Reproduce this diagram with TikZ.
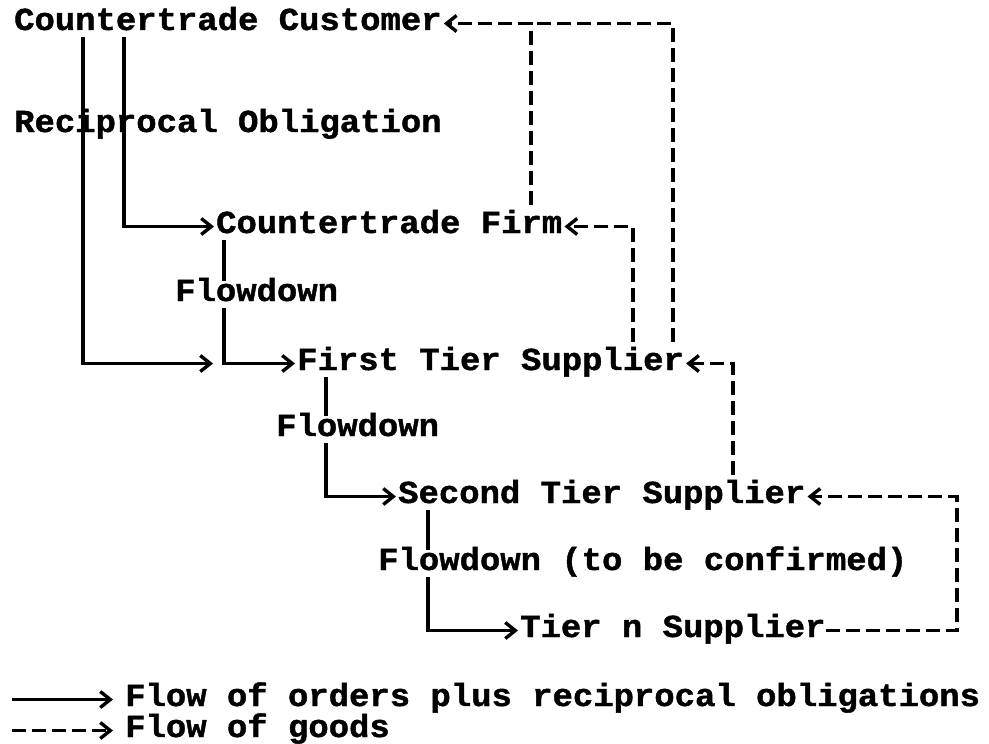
\documentclass[tikz,border=0pt]{standalone}
\usepackage{fontspec}
\newfontfamily\twfont[FakeStretch=1.06,FakeBold=1.3]{Liberation Mono}
\usetikzlibrary{arrows.meta}
\newcommand\twbold{\twfont\bfseries\fontsize{32pt}{36pt}\selectfont}
\tikzset{
  lbl/.style={font=\twbold, inner sep=0pt, text height=20pt, text depth=7pt, anchor=base west},
  order/.style={line width=3.4pt, line join=miter},
  goods/.style={line width=3.4pt, dash pattern=on 14pt off 6pt},
  chev/.style={-{Straight Barb[length=10pt,width=16pt]}, shorten >=2pt}
}
\begin{document}
\begin{tikzpicture}[x=1pt,y=-1pt]
    % Dibuja el fondo
    \fill[white] (0,0) rectangle (989,743);

    % Dibuja los textos
    \node[lbl] (cust) at (14,30) {Countertrade Customer};
    \node[lbl] (oblig) at (14,132) {Reciprocal Obligation};
    \node[lbl] (firm) at (216,233) {Countertrade Firm};
    \node[lbl] (flowA) at (175,301) {Flowdown};
    \node[lbl] (first) at (297,370) {First Tier Supplier};
    \node[lbl] (flowB) at (276,436) {Flowdown};
    \node[lbl] (second) at (398,503) {Second Tier Supplier};
    \node[lbl] (flowC) at (378,570) {Flowdown (to be confirmed)};
    \node[lbl] (tiern) at (520,637) {Tier n Supplier};
    \node[lbl] (keyA) at (125,706) {Flow of orders plus reciprocal obligations};
    \node[lbl] (keyB) at (125,737) {Flow of goods};

    % Columnas de las lineas
    \coordinate (xa) at (83,0);
    \coordinate (xb) at (124,0);
    \coordinate (xc) at (224,0);
    \coordinate (xd) at (326,0);
    \coordinate (xe) at (428,0);
    \coordinate (ga) at (531,0);
    \coordinate (gb) at (673,0);
    \coordinate (gc) at (633,0);
    \coordinate (gd) at (733,0);
    \coordinate (ge) at (957,0);

    % Dibuja el flujo de pedidos
    \draw[order,chev] (cust.south -| xa) |- ([xshift=-82pt]first.west);
    \draw[order,chev] (cust.south -| xb) |- (firm.west);
    \draw[order] (firm.south -| xc) -- (flowA.north -| xc);
    \draw[order,chev] (flowA.south -| xc) |- (first.west);
    \draw[order] (first.south -| xd) -- (flowB.north -| xd);
    \draw[order,chev] (flowB.south -| xd) |- (second.west);
    \draw[order] (second.south -| xe) -- (flowC.north -| xe);
    \draw[order,chev] (flowC.south -| xe) |- (tiern.west);

    % Dibuja el flujo de bienes
    \draw[goods,chev,shorten <=8pt] (firm.north -| ga) |- (cust.east);
    \draw[goods,shorten <=8pt] (first.north -| gb) |- (cust.east -| ga);
    \draw[goods,chev,shorten <=8pt] (first.north -| gc) |- (firm.east);
    \draw[goods,chev,shorten <=8pt] (second.north -| gd) |- (first.east);
    \draw[goods,chev] (tiern.east) -| (second.east -| ge) -- (second.east);

    % Dibuja la leyenda
    \draw[order,chev] ([xshift=-113pt]keyA.west) -- ([xshift=-10pt]keyA.west);
    \draw[goods,chev] ([xshift=-113pt]keyB.west) -- ([xshift=-10pt]keyB.west);
\end{tikzpicture}
\end{document}
